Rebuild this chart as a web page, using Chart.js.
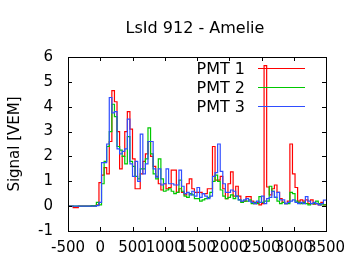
<!DOCTYPE html>
<html>
<head>
<meta charset="utf-8">
<script src="https://cdn.jsdelivr.net/npm/chart.js@4.4.0/dist/chart.umd.min.js"></script>
<style>
  html, body { margin: 0; padding: 0; background: #fff; }
  #chart { display: block; }
</style>
</head>
<body>
<canvas id="chart" width="360" height="270"></canvas>
<script>
// values
const chartTitle = 'LsId 912 - Amelie';
const yTitle = 'Signal [VEM]';
const seriesNames = ['PMT 1', 'PMT 2', 'PMT 3'];
const xTicks = [-500, 0, 500, 1000, 1500, 2000, 2500, 3000, 3500];
const yTicks = [-1, 0, 1, 2, 3, 4, 5, 6];

// left edges of the histogram bins (last entry closes the final bin)
const binEdges = [
  -500, -460, -420, -380, -340, -300, -260, -220, -180, -140,
  -100, -60, -20, 20, 60, 100, 140, 180, 220, 260,
  300, 340, 380, 420, 460, 500, 540, 580, 620, 660,
  700, 740, 780, 820, 860, 900, 940, 980, 1020, 1060,
  1100, 1140, 1180, 1220, 1260, 1300, 1340, 1380, 1420, 1460,
  1500, 1540, 1580, 1620, 1660, 1700, 1740, 1780, 1820, 1860,
  1900, 1940, 1980, 2020, 2060, 2100, 2140, 2180, 2220, 2260,
  2300, 2340, 2380, 2420, 2460, 2500, 2540, 2580, 2620, 2660,
  2700, 2740, 2780, 2820, 2860, 2900, 2940, 2980, 3020, 3060,
  3100, 3140, 3180, 3220, 3260, 3300, 3340, 3380, 3420, 3460,
  3500
];

const pmt1 = [
  0, 0, -0.06, -0.06, 0, 0, 0, 0, 0, 0,
  0.02, 0.05, 0.95, 1.25, 1.55, 1.3, 2.6, 4.65, 4.2, 3.0,
  1.5, 2.0, 3.0, 3.8, 3.1, 1.9, 0.7, 0.7, 1.3, 1.8,
  2.1, 2.6, 2.0, 1.6, 1.2, 0.9, 0.65, 0.9, 0.7, 0.75,
  1.45, 1.45, 0.55, 0.7, 0.55, 0.45, 0.9, 1.1, 0.7, 0.55,
  0.55, 0.55, 0.5, 0.5, 0.7, 0.7, 2.4, 1.05, 1.05, 1.2,
  0.7, 0.3, 0.9, 1.38, 0.4, 0.8, 0.4, 0.17, 0.2, 0.38,
  0.38, 0.2, 0.1, 0.15, 0.05, 0.1, 5.65, 0.77, 0.45, 0.7,
  0.85, 0.55, 0.3, 0.15, 0.1, 0.2, 2.5, 1.3, 0.75, 0.2,
  0.25, 0.2, 0.25, 0.1, 0.25, 0.08, 0.1, 0.05, 0.15, 0.05
];

const pmt2 = [
  0, 0, 0, 0, 0, 0, 0, 0, 0, 0.02,
  0, 0.15, 0.05, 0.9, 1.8, 2.4, 3.0, 4.1, 3.6, 2.4,
  2.25, 2.0, 1.7, 2.8, 1.8, 1.6, 1.2, 1.1, 1.5, 1.5,
  1.9, 3.15, 2.1, 1.3, 1.1, 1.9, 1.1, 0.6, 0.65, 0.7,
  0.6, 0.5, 0.55, 1.05, 0.6, 0.4, 0.35, 0.5, 0.45, 0.3,
  0.3, 0.2, 0.25, 0.3, 0.35, 0.55, 1.0, 1.25, 1.0, 0.65,
  0.4, 0.3, 0.35, 0.45, 0.3, 0.4, 0.25, 0.15, 0.2, 0.2,
  0.25, 0.1, 0.15, 0.1, 0.38, 0.15, 0.2, 0.2, 0.8, 0.6,
  0.35, 0.2, 0.1, 0.15, 0.1, 0.1, 0.55, 0.5, 0.2, 0.15,
  0.1, 0.15, 0.1, 0.05, 0.1, 0.1, 0.2, 0.1, 0.05, 0.05
];

const pmt3 = [
  0, 0, 0, 0, 0, 0, 0, 0, 0, 0,
  0, 0.02, 0.15, 1.75, 1.75, 2.5, 4.37, 3.75, 3.8, 2.3,
  2.1, 2.2, 2.3, 3.5, 1.7, 1.2, 1.8, 1.0, 2.9, 1.3,
  1.7, 2.6, 2.6, 1.5, 1.17, 1.5, 0.85, 0.9, 1.5, 0.9,
  0.9, 0.85, 0.85, 1.45, 0.8, 0.5, 0.55, 0.45, 0.6, 0.4,
  0.75, 0.35, 0.5, 0.4, 0.3, 0.4, 1.2, 1.35, 2.5, 1.4,
  0.9, 0.55, 0.55, 0.65, 0.6, 0.4, 0.25, 0.2, 0.25, 0.3,
  0.2, 0.15, 0.1, 0.2, 0.15, 0.4, 0.1, 0.3, 0.35, 0.6,
  0.35, 0.55, 0.25, 0.25, 0.1, 0.15, 0.2, 0.25, 0.15, 0.1,
  0.15, 0.1, 0.38, 0.2, 0.1, 0.15, 0.1, 0.05, 0.1, 0.24
];

const colors = ['#ff0000', '#00c800', '#2f4dff'];

Chart.defaults.font.family = "'DejaVu Sans', sans-serif";
Chart.defaults.color = '#000';

// histogram -> step points, last edge repeats the last bin value
const toSteps = (vals) => binEdges.map((x, i) => ({ x, y: vals[Math.min(i, vals.length - 1)] }));

// gnuplot-like frame, inward ticks, title and legend
const framePlugin = {
  id: 'frame',
  afterDatasetsDraw(chart) {
    const { ctx, chartArea: a, scales } = chart;
    ctx.save();
    ctx.strokeStyle = '#000';
    ctx.lineWidth = 1;
    ctx.strokeRect(a.left + 0.5, a.top + 0.5, a.right - a.left, a.bottom - a.top);

    ctx.beginPath();
    xTicks.forEach(v => {
      const x = Math.round(scales.x.getPixelForValue(v)) + 0.5;
      ctx.moveTo(x, a.top); ctx.lineTo(x, a.top + 4);
      ctx.moveTo(x, a.bottom); ctx.lineTo(x, a.bottom - 4);
    });
    yTicks.forEach(v => {
      const y = Math.round(scales.y.getPixelForValue(v)) + 0.5;
      ctx.moveTo(a.left, y); ctx.lineTo(a.left + 4, y);
      ctx.moveTo(a.right, y); ctx.lineTo(a.right - 4, y);
    });
    ctx.stroke();

    ctx.fillStyle = '#000';
    ctx.font = "16px 'DejaVu Sans'";
    ctx.textAlign = 'center';
    ctx.textBaseline = 'alphabetic';
    ctx.fillText(chartTitle, 195, 33);

    // legend: text on the left, line sample on the right
    ctx.textAlign = 'right';
    chart.data.datasets.forEach((ds, i) => {
      const y = 68.5 + i * 19;
      ctx.fillStyle = '#000';
      ctx.fillText(ds.label, 245, y + 5);
      ctx.strokeStyle = ds.borderColor;
      ctx.beginPath();
      ctx.moveTo(258, y); ctx.lineTo(305, y);
      ctx.stroke();
    });
    ctx.restore();
  }
};

new Chart(document.getElementById('chart'), {
  type: 'line',
  data: {
    datasets: [pmt1, pmt2, pmt3].map((vals, i) => ({
      label: seriesNames[i],
      data: toSteps(vals),
      borderColor: colors[i],
      borderWidth: 1.2,
      pointRadius: 0,
      stepped: true,
      fill: false,
      order: 3 - i
    }))
  },
  options: {
    responsive: false,
    animation: false,
    devicePixelRatio: 1,
    layout: { padding: { left: 0, right: 34, top: 57, bottom: 0 } },
    plugins: {
      legend: { display: false },
      title: { display: false },
      tooltip: { enabled: false }
    },
    scales: {
      x: {
        type: 'linear',
        min: -500,
        max: 3500,
        grid: { display: false, drawTicks: false },
        border: { display: false },
        ticks: {
          font: { size: 15 }, padding: 8, maxRotation: 0, minRotation: 0, autoSkip: false,
          callback: v => String(v)
        },
        afterBuildTicks: s => { s.ticks = xTicks.map(v => ({ value: v })); },
        afterFit: s => { s.height = 39; }
      },
      y: {
        min: -1,
        max: 6,
        grid: { display: false, drawTicks: false },
        border: { display: false },
        ticks: { font: { size: 15 }, padding: 15, callback: v => String(v) },
        afterBuildTicks: s => { s.ticks = yTicks.map(v => ({ value: v })); },
        title: { display: true, text: yTitle, font: { size: 15 }, padding: { top: 6, bottom: 0 } },
        afterFit: s => { s.width = 68; }
      }
    }
  },
  plugins: [framePlugin]
});
</script>
</body>
</html>
